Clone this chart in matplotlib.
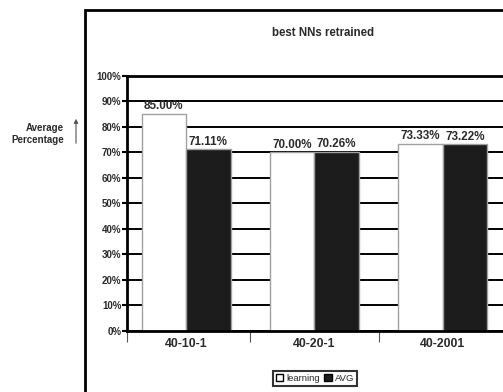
import numpy as np
import matplotlib
matplotlib.use("Agg")
import matplotlib.pyplot as plt
from matplotlib.patches import Rectangle, Patch

plt.rcParams['font.family'] = ['Liberation Sans Narrow', 'Liberation Sans', 'DejaVu Sans']

# network configurations and their scores (percent)
configs = ["40-10-1", "40-20-1", "40-2001"]
learning = [85.00, 70.00, 73.33]
avg = [71.11, 70.26, 73.22]
yticks = [0, 10, 20, 30, 40, 50, 60, 70, 80, 90, 100]

txt = "#2a2a2a"
fig = plt.figure(figsize=(5.03, 3.92), dpi=100)

# plot area runs past the right edge of the page
ax = fig.add_axes([127 / 503, 61 / 392, 385 / 503, 255.3 / 392])
x = np.arange(len(configs))
w = 0.347

ax.set_ylim(0, 100)
ax.set_xlim(-0.46, 2.54)
ax.set_yticks(yticks)
ax.set_yticklabels([f"{v}%" for v in yticks])
ax.yaxis.grid(True, color="black", linewidth=1.4, zorder=0)
ax.set_axisbelow(True)

b1 = ax.bar(x - w / 2, learning, w, color="white", edgecolor="#a0a0a0", linewidth=1, zorder=2)
b2 = ax.bar(x + w / 2, avg, w, color="#1c1c1c", edgecolor="#a0a0a0", linewidth=1, zorder=2)

for bars, vals in ((b1, learning), (b2, avg)):
    for r, v in zip(bars, vals):
        ax.text(r.get_x() + r.get_width() / 2, v + 0.6, f"{v:.2f}%", ha="center", va="bottom",
                fontsize=8.4, fontweight="bold", color=txt)

ax.set_xticks(x)
ax.set_xticklabels(configs, fontsize=8.8, fontweight="bold", color=txt)
ax.set_xticks([-0.46, 0.5, 1.5], minor=True)
ax.tick_params(axis="x", which="major", length=0, pad=5)
ax.tick_params(axis="x", which="minor", length=8, width=0.8, color="#555555")
ax.tick_params(axis="y", length=3.5, width=1.5, color="black", labelsize=7, pad=0.5, labelcolor=txt)
for lab in ax.get_yticklabels():
    lab.set_fontweight("bold")

for side in ("left", "top", "bottom"):
    ax.spines[side].set_linewidth(2)
    ax.spines[side].set_color("black")
ax.spines["right"].set_visible(False)

fig.text(323 / 503, 1 - 33 / 392, "best NNs retrained", ha="center", va="center",
         fontsize=8.3, fontweight="bold", color=txt)

fig.text(64 / 503, 1 - 134 / 392, "Average\nPercentage", ha="right", va="center",
         fontsize=7, fontweight="bold", color=txt, linespacing=1.25)
ax.annotate("", xy=(76 / 503, 1 - 116 / 392), xytext=(76 / 503, 1 - 146 / 392),
            xycoords=fig.transFigure, textcoords=fig.transFigure,
            arrowprops=dict(arrowstyle="-|>", color="#555555", lw=0.8, mutation_scale=6))

# outer chart frame
fig.patches.append(Rectangle((85 / 503, -0.2), 1.0, 1.2 - 10 / 392, transform=fig.transFigure,
                             fill=False, edgecolor="black", linewidth=2))

leg = fig.legend(handles=[Patch(facecolor="white", edgecolor="black", label="learning"),
                          Patch(facecolor="#1c1c1c", edgecolor="black", label="AVG")],
                 loc="center", bbox_to_anchor=(315 / 503, 1 - 378.5 / 392), ncol=2,
                 fontsize=6.8, frameon=True, fancybox=False, handlelength=0.8, handleheight=0.8,
                 handletextpad=0.3, columnspacing=0.5, borderpad=0.3, labelcolor=txt)
leg.get_frame().set_edgecolor("black")
leg.get_frame().set_linewidth(1.5)

fig.savefig("out.png", dpi=100)
